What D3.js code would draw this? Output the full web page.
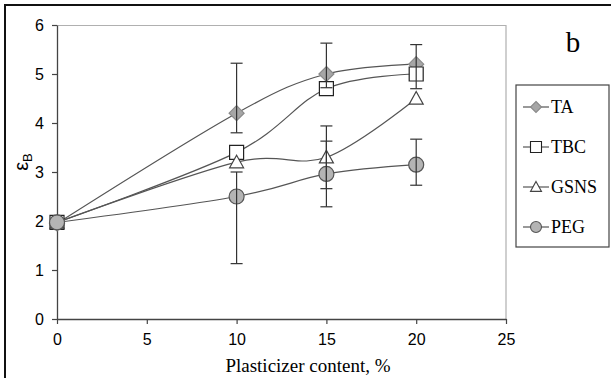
<!DOCTYPE html>
<html>
<head>
<meta charset="utf-8">
<script src="https://cdn.jsdelivr.net/npm/d3@7"></script>
<style>
  body { margin: 0; background: #fff; }
  svg { display: block; }
</style>
</head>
<body>
<svg id="chart" width="611" height="378"></svg>
<script>
// data
var content = [0, 10, 15, 20];
var seriesNames = ["TA", "TBC", "GSNS", "PEG"];
var taVals   = [1.95, 4.2, 5.0, 5.2];
var tbcVals  = [1.97, 3.4, 4.7, 5.0];
var gsnsVals = [1.97, 3.2, 3.3, 4.5];
var pegVals  = [1.97, 2.5, 2.96, 3.15];
// error bars as [low, high], null where none is drawn
var taErr   = [null, [3.8, 5.22], [4.72, 5.63], [4.7, 5.6]];
var tbcErr  = [null, null, null, null];
var gsnsErr = [null, null, [2.66, 3.94], null];
var pegErr  = [null, [1.13, 3.0], [2.29, 3.63], [2.73, 3.67]];
var xTicks = [0, 5, 10, 15, 20, 25];
var yTicks = [0, 1, 2, 3, 4, 5, 6];

var svg = d3.select("#chart"),
    margin = { top: 25, right: 105, bottom: 59, left: 57 },
    chartWidth = svg.attr("width") - margin.left - margin.right,
    chartHeight = svg.attr("height") - margin.top - margin.bottom;

// outer frame (runs off the right / bottom edge)
svg.append("rect")
  .attr("x", 5).attr("y", 5)
  .attr("width", 700).attr("height", 500)
  .attr("fill", "none").attr("stroke", "#111").attr("stroke-width", 2);

var g = svg.append("g").attr("transform", "translate(" + margin.left + "," + margin.top + ")");

var x = d3.scaleLinear().domain([0, 25]).range([0, chartWidth]);
var y = d3.scaleLinear().domain([0, 6]).range([chartHeight, 0]);

// plot area border (top and right)
g.append("path")
  .attr("d", "M0,0.5H" + chartWidth + "V" + chartHeight)
  .attr("fill", "none").attr("stroke", "#b0b0b0").attr("stroke-width", 1.2);

var xAxis = g.append("g")
  .attr("transform", "translate(0," + chartHeight + ")")
  .call(d3.axisBottom(x).tickValues(xTicks).tickFormat(d3.format("d"))
    .tickSize(5).tickPadding(10).tickSizeOuter(0));
var yAxis = g.append("g")
  .call(d3.axisLeft(y).tickValues(yTicks).tickFormat(d3.format("d"))
    .tickSize(5).tickPadding(8).tickSizeOuter(0));

[xAxis, yAxis].forEach(function(a) {
  a.select(".domain").attr("stroke", "#444").attr("stroke-width", 1.3);
  a.selectAll(".tick line").attr("stroke", "#444").attr("stroke-width", 1.2);
  a.selectAll(".tick text")
    .attr("fill", "#000")
    .style("font-family", "'Liberation Sans', Arial, sans-serif")
    .style("font-size", "16px");
});

// axis titles
svg.append("text")
  .attr("x", 308)
  .attr("y", 372)
  .attr("text-anchor", "middle")
  .style("font-family", "'Liberation Serif', 'Times New Roman', serif")
  .style("font-size", "19px")
  .text("Plasticizer content, %");

var yl = svg.append("text")
  .attr("transform", "translate(28,162) rotate(-90)")
  .attr("text-anchor", "middle")
  .style("font-family", "'Liberation Sans', Arial, sans-serif")
  .style("font-size", "20px");
yl.append("tspan").text("ε");
yl.append("tspan").attr("dy", 4).style("font-size", "13px").text("B");

// panel letter
svg.append("text")
  .attr("x", 573).attr("y", 52)
  .attr("text-anchor", "middle")
  .style("font-family", "'Liberation Serif', 'Times New Roman', serif")
  .style("font-size", "29px")
  .text("b");

// marker shapes
function markerPath(type, s) {
  var h = s / 2;
  if (type === "diamond") return "M0," + (-h) + "L" + h + ",0L0," + h + "L" + (-h) + ",0Z";
  if (type === "square") return "M" + (-h) + "," + (-h) + "H" + h + "V" + h + "H" + (-h) + "Z";
  if (type === "triangle") return "M0," + (-h) + "L" + h + "," + (h * 0.8) + "H" + (-h) + "Z";
  return d3.arc()({ innerRadius: 0, outerRadius: h, startAngle: 0, endAngle: 2 * Math.PI });
}

var series = [
  { name: seriesNames[0], vals: taVals,   err: taErr,   shape: "diamond",  fill: "#a6a6a6", stroke: "#8a8a8a", size: 15 },
  { name: seriesNames[1], vals: tbcVals,  err: tbcErr,  shape: "square",   fill: "#ffffff", stroke: "#222",    size: 14 },
  { name: seriesNames[2], vals: gsnsVals, err: gsnsErr, shape: "triangle", fill: "#ffffff", stroke: "#444",    size: 14 },
  { name: seriesNames[3], vals: pegVals,  err: pegErr,  shape: "circle",   fill: "#b4b4b4", stroke: "#555",    size: 15 }
];

var line = d3.line()
  .x(function(d) { return x(d[0]); })
  .y(function(d) { return y(d[1]); })
  .curve(d3.curveCardinal.tension(0));

series.forEach(function(s) {
  var pts = content.map(function(c, i) { return [c, s.vals[i]]; });
  g.append("path")
    .attr("d", line(pts))
    .attr("fill", "none")
    .attr("stroke", "#555")
    .attr("stroke-width", 1.2);
  g.selectAll(null)
    .data(pts)
    .enter()
    .append("path")
      .attr("transform", function(d) { return "translate(" + x(d[0]) + "," + y(d[1]) + ")"; })
      .attr("d", markerPath(s.shape, s.size))
      .attr("fill", s.fill)
      .attr("stroke", s.stroke)
      .attr("stroke-width", 1.2);
});

// error bars on top
series.forEach(function(s) {
  var errs = content.map(function(c, i) { return { c: c, e: s.err[i] }; })
    .filter(function(d) { return d.e; });
  var eg = g.selectAll(null).data(errs).enter().append("g")
    .attr("stroke", "#333").attr("stroke-width", 1.2);
  eg.append("line")
    .attr("x1", function(d) { return x(d.c); })
    .attr("x2", function(d) { return x(d.c); })
    .attr("y1", function(d) { return y(d.e[0]); })
    .attr("y2", function(d) { return y(d.e[1]); });
  [0, 1].forEach(function(k) {
    eg.append("line")
      .attr("x1", function(d) { return x(d.c) - 6; })
      .attr("x2", function(d) { return x(d.c) + 6; })
      .attr("y1", function(d) { return y(d.e[k]); })
      .attr("y2", function(d) { return y(d.e[k]); });
  });
});

// legend
var lg = svg.append("g").attr("transform", "translate(516,85)");
lg.append("rect")
  .attr("x", 0).attr("y", 0).attr("width", 93).attr("height", 162)
  .attr("fill", "#fff").attr("stroke", "#444").attr("stroke-width", 1.2);
var items = lg.selectAll(".item").data(series).enter().append("g")
  .attr("class", "item")
  .attr("transform", function(d, i) { return "translate(0," + (22 + i * 40) + ")"; });
items.append("line")
  .attr("x1", 7).attr("x2", 33).attr("y1", 0).attr("y2", 0)
  .attr("stroke", "#555").attr("stroke-width", 1.2);
items.append("path")
  .attr("transform", "translate(20,0)")
  .attr("d", function(d) { return markerPath(d.shape, 11); })
  .attr("fill", function(d) { return d.fill; })
  .attr("stroke", function(d) { return d.stroke; })
  .attr("stroke-width", 1.1);
items.append("text")
  .attr("x", 35).attr("y", 6)
  .style("font-family", "'Liberation Serif', 'Times New Roman', serif")
  .style("font-size", "18px")
  .text(function(d) { return d.name; });
</script>
</body>
</html>
